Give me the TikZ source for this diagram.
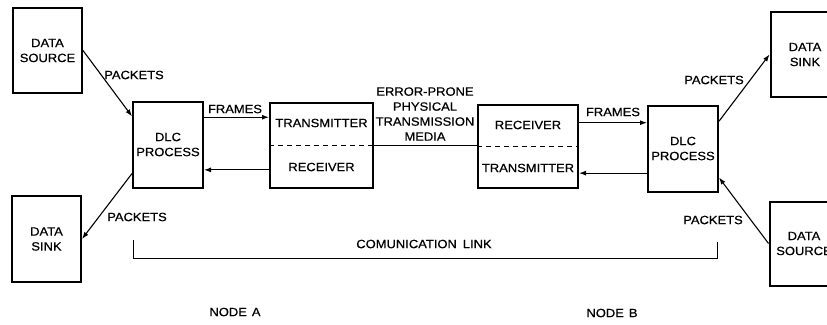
\documentclass[tikz,border=0pt]{standalone}
\usepackage{fontspec}
\setmainfont[FakeStretch=1.08,FakeBold=0.6]{Liberation Sans}
\usetikzlibrary{calc,arrows.meta}
\begin{document}
\begin{tikzpicture}[x=1pt,y=-1pt,
  every node/.style={font=\fontsize{12}{15}\selectfont, align=center, inner sep=0pt},
  blk/.style={draw, line width=2pt, minimum width=#1},
  blk/.default=69pt,
  conn/.style={line width=1.1pt},
  brk/.style={line width=0.8pt},
  arr/.style={conn, -{Latex[length=7pt,width=5pt]}}]
\useasboundingbox (0,0) rectangle (827,324);
\clip (0,0) rectangle (827,324);
% Node A
\node[blk, minimum height=85pt] (srcA) at (47.5,50.5) {DATA\\SOURCE};
\node[blk=70pt, minimum height=86pt] (dlcA) at (168,144.5) {DLC\\PROCESS};
\node[blk, minimum height=86pt] (sinkA) at (46.5,239) {DATA\\SINK};
\node[blk=103pt, minimum height=85pt] (trxA) at (321.5,145.5) {};
\node (txA) at (321.5,123) {TRANSMITTER};
\node (rxA) at (321.5,167) {RECEIVER};
\draw[line width=1pt, dash pattern=on 5pt off 4pt] (trxA.west) -- (trxA.east);
% Node B
\node[blk=100pt, minimum height=83pt] (trxB) at (528,146.5) {};
\node (rxB) at (528,125) {RECEIVER};
\node (txB) at (528,168) {TRANSMITTER};
\draw[line width=1pt, dash pattern=on 5pt off 4pt] (trxB.west) -- (trxB.east);
\node[blk=70pt, minimum height=86pt] (dlcB) at (683,148.5) {DLC\\PROCESS};
\node[blk, minimum height=85pt] (sinkB) at (805,54.5) {DATA\\SINK};
\node[blk, minimum height=84pt] (srcB) at (804,243.5) {DATA\\SOURCE};
% connectors
\coordinate (a1) at ($(dlcA.north west)!0.18!(dlcA.south west)$);
\draw[arr] (srcA.east) -- (a1);
\coordinate (a2) at ($(dlcA.north west)!0.83!(dlcA.south west)$);
\draw[arr] (a2) -- (sinkA.east);
\coordinate (a3) at ($(dlcA.north east)!0.19!(dlcA.south east)$);
\draw[arr] (a3) -- (a3 -| trxA.west);
\coordinate (a4) at ($(trxA.north west)!0.78!(trxA.south west)$);
\draw[arr] (a4) -- (a4 -| dlcA.east);
\draw[conn] (trxA.east) -- (trxA.east -| trxB.west);
\coordinate (b1) at ($(trxB.north east)!0.22!(trxB.south east)$);
\draw[arr] (b1) -- (b1 -| dlcB.west);
\coordinate (b2) at ($(dlcB.north west)!0.78!(dlcB.south west)$);
\draw[arr] (b2) -- (b2 -| trxB.east);
\coordinate (b3) at ($(dlcB.north east)!0.19!(dlcB.south east)$);
\draw[arr] (b3) -- (sinkB.west);
\coordinate (b4) at ($(dlcB.north east)!0.83!(dlcB.south east)$);
\draw[arr] (srcB.west) -- (b4);
% labels
\node (pA1) at (134,75) {PACKETS};
\node (pA2) at (137,217) {PACKETS};
\node (fA) at (235,109) {FRAMES};
\node (med) at (425,114) {ERROR-PRONE\\PHYSICAL\\TRANSMISSION\\MEDIA};
\node (fB) at (613,112) {FRAMES};
\node (pB1) at (714,80) {PACKETS};
\node (pB2) at (713,220) {PACKETS};
% communication link bracket
\coordinate (l1) at (133,240);
\coordinate (l2) at (133,258);
\coordinate (l3) at (717,258);
\coordinate (l4) at (717,242);
\draw[brk] (l1) -- (l2) -- (l3) -- (l4);
\node (link) at (424,244) {COMUNICATION\hspace{6pt}LINK};
\node (nA) at (235,312) {NODE\hspace{5pt}A};
\node (nB) at (612,313) {NODE\hspace{5pt}B};
\end{tikzpicture}
\end{document}
